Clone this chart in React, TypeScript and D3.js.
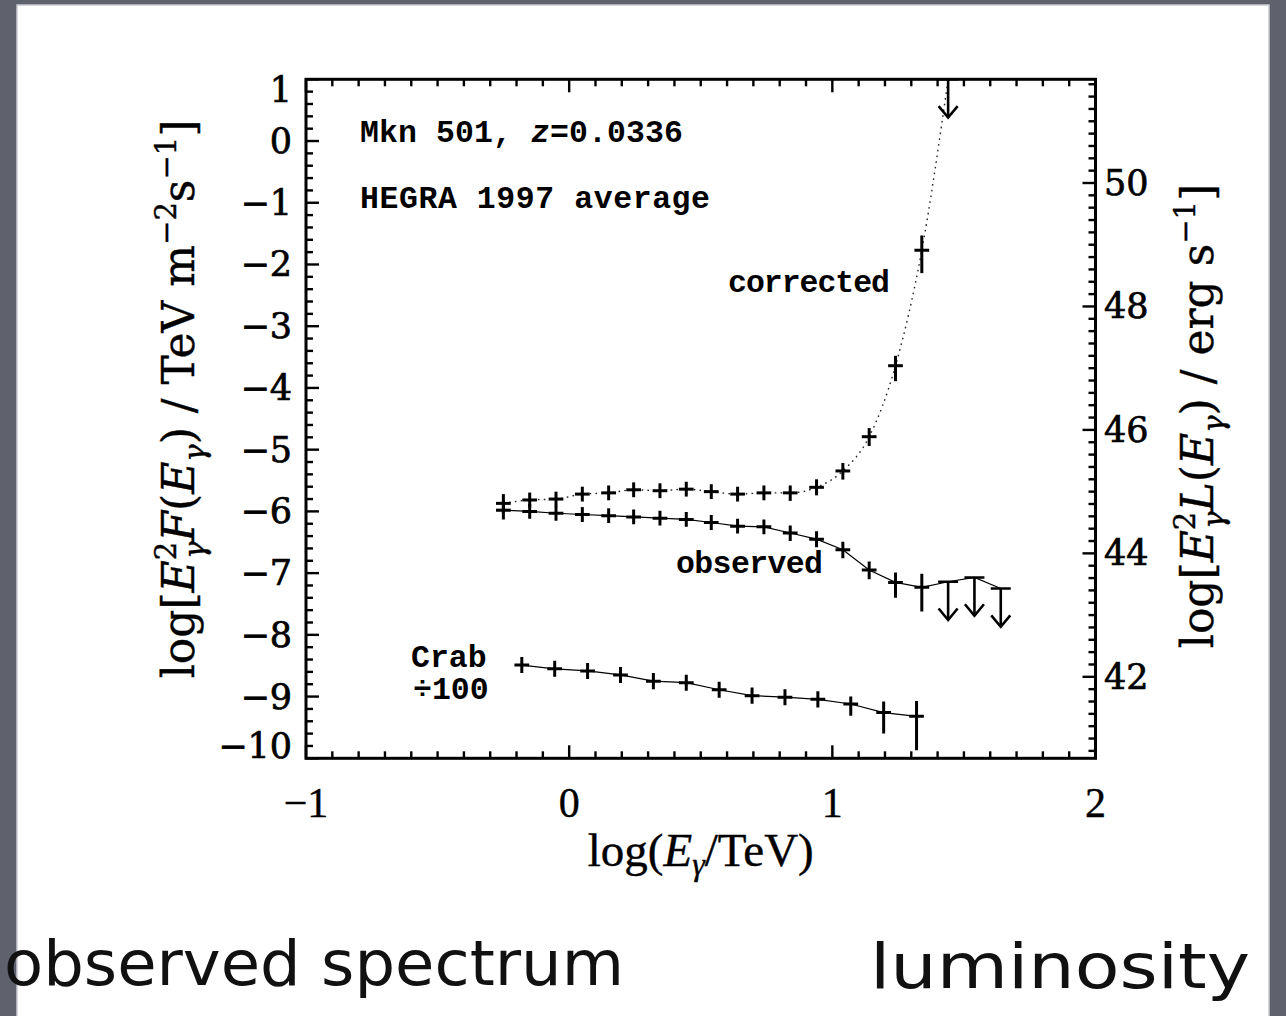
import React from "react";
import * as d3 from "d3";

// ---- data (log10 E / TeV, log10 E^2 F) ----
const obsX = [-0.25, -0.15, -0.05, 0.05, 0.15, 0.245, 0.345, 0.445, 0.54, 0.64, 0.74, 0.84, 0.94, 1.04, 1.14, 1.24, 1.34];
const obsY = [-5.98, -6.0, -6.03, -6.05, -6.07, -6.09, -6.11, -6.13, -6.18, -6.24, -6.25, -6.35, -6.45, -6.62, -6.95, -7.15, -7.23];
const obsErrUp = [0.15, 0.12, 0.12, 0.12, 0.12, 0.12, 0.12, 0.12, 0.12, 0.12, 0.12, 0.12, 0.13, 0.13, 0.14, 0.16, 0.22];
const obsErrDn = [0.15, 0.12, 0.12, 0.12, 0.12, 0.12, 0.12, 0.12, 0.12, 0.12, 0.12, 0.13, 0.13, 0.14, 0.15, 0.25, 0.39];
const obsUlX = [1.44, 1.54, 1.64];
const obsUlY = [-7.14, -7.07, -7.25];

const corrX = [-0.25, -0.15, -0.05, 0.05, 0.15, 0.245, 0.345, 0.445, 0.54, 0.64, 0.74, 0.84, 0.94, 1.04, 1.14, 1.24, 1.34];
const corrY = [-5.87, -5.815, -5.8, -5.72, -5.7, -5.65, -5.665, -5.64, -5.68, -5.72, -5.7, -5.7, -5.61, -5.345, -4.79, -3.64, -1.77];
const corrErrUp = [0.15, 0.12, 0.12, 0.12, 0.12, 0.12, 0.12, 0.12, 0.12, 0.12, 0.12, 0.12, 0.13, 0.13, 0.14, 0.16, 0.24];
const corrErrDn = [0.15, 0.12, 0.12, 0.12, 0.12, 0.12, 0.12, 0.12, 0.12, 0.12, 0.12, 0.13, 0.13, 0.14, 0.15, 0.25, 0.37];
const corrUlX = [1.44];
const corrUlY = [1.0];

const crabX = [-0.18, -0.055, 0.07, 0.195, 0.32, 0.445, 0.57, 0.695, 0.82, 0.945, 1.07, 1.195, 1.32];
const crabY = [-8.49, -8.55, -8.585, -8.65, -8.75, -8.775, -8.89, -8.985, -9.01, -9.045, -9.12, -9.26, -9.32];
const crabErrUp = [0.13, 0.13, 0.13, 0.13, 0.13, 0.13, 0.13, 0.13, 0.13, 0.13, 0.12, 0.18, 0.25];
const crabErrDn = [0.13, 0.13, 0.13, 0.13, 0.13, 0.13, 0.13, 0.13, 0.13, 0.13, 0.19, 0.34, 0.55];

const binHalfWidth = 0.028;
const ulHalfWidth = 0.038;
const ulArrowLength = 0.62;

const xDomain = [-1, 2];
const yDomain = [-10, 1];
const lumOffset = 50.68; // log L - log F
const xTickLabels = [-1, 0, 1, 2];
const yTickLabels = [1, 0, -1, -2, -3, -4, -5, -6, -7, -8, -9, -10];
const rTickLabels = [42, 44, 46, 48, 50];

const W = 1286;
const H = 1016;
const P = { l: 306, r: 1095.5, t: 79.3, b: 758.3 };

const fmt = (v: number) => (v < 0 ? "\u2212" + Math.abs(v) : String(v));

export default function App() {
  const x = d3.scaleLinear().domain(xDomain).range([P.l, P.r]);
  const y = d3.scaleLinear().domain(yDomain).range([P.b, P.t]);
  const yR = d3.scaleLinear().domain([yDomain[0] + lumOffset, yDomain[1] + lumOffset]).range([P.b, P.t]);

  const xMinor = d3.range(-10, 21).map((i) => i / 10);
  const yMinor = d3.range(-50, 6).map((i) => i / 5);
  const rMinor = d3.range(Math.ceil((yDomain[0] + lumOffset) * 5), Math.floor((yDomain[1] + lumOffset) * 5) + 1).map((i) => i / 5);
  const isInt = (v: number) => Math.abs(v - Math.round(v)) < 1e-6;
  const isEven = (v: number) => isInt(v) && Math.round(v) % 2 === 0;

  const lin = d3.line<[number, number]>().x((d) => x(d[0])).y((d) => y(d[1]));
  const smooth = d3.line<[number, number]>().x((d) => x(d[0])).y((d) => y(d[1])).curve(d3.curveMonotoneX);

  const obsPts: [number, number][] = obsX.map((v, i) => [v, obsY[i]] as [number, number]).concat(obsUlX.map((v, i) => [v, obsUlY[i]] as [number, number]));
  const corrPts: [number, number][] = corrX.map((v, i) => [v, corrY[i]] as [number, number]).concat(corrUlX.map((v, i) => [v, corrUlY[i]] as [number, number]));
  const crabPts: [number, number][] = crabX.map((v, i) => [v, crabY[i]] as [number, number]);

  const crosses = (xs: number[], ys: number[], up: number[], dn: number[], key: string) =>
    xs.map((v, i) => (
      <g key={key + i}>
        <line x1={x(v - binHalfWidth)} x2={x(v + binHalfWidth)} y1={y(ys[i])} y2={y(ys[i])} stroke="#000" strokeWidth={3} />
        <line x1={x(v)} x2={x(v)} y1={y(ys[i] + up[i])} y2={y(ys[i] - dn[i])} stroke="#000" strokeWidth={3} />
      </g>
    ));

  const arrows = (xs: number[], ys: number[], key: string) =>
    xs.map((v, i) => {
      const cx = x(v);
      const y0 = y(ys[i]);
      const tip = y(ys[i] - ulArrowLength);
      return (
        <g key={key + i} fill="none" stroke="#000" strokeWidth={2.6}>
          <line x1={x(v - ulHalfWidth)} x2={x(v + ulHalfWidth)} y1={y0} y2={y0} />
          <line x1={cx} x2={cx} y1={y0} y2={tip} />
          <polyline points={`${cx - 9.5},${tip - 11.5} ${cx},${tip} ${cx + 9.5},${tip - 11.5}`} />
        </g>
      );
    });

  const mono = "'Liberation Mono', 'DejaVu Sans Mono', monospace";
  const serif = "'DejaVu Serif', serif";
  const times = "'Liberation Serif', 'Times New Roman', serif";

  return (
    <svg width={W} height={H} style={{ position: "absolute", left: 0, top: 0, display: "block" }}>
      <defs>
        <clipPath id="plotclip">
          <rect x={P.l} y={P.t} width={P.r - P.l} height={P.b - P.t} />
        </clipPath>
      </defs>
      <rect x={0} y={0} width={W} height={H} fill="#5f626c" />
      <rect x={17} y={5} width={1252} height={H + 10} fill="#ffffff" stroke="#c9cacf" strokeWidth={1.5} />

      {/* data lines */}
      <g clipPath="url(#plotclip)">
        <path d={lin(obsPts) || ""} fill="none" stroke="#000" strokeWidth={1.2} />
        <path d={smooth(corrPts) || ""} fill="none" stroke="#222" strokeWidth={1.4} strokeDasharray="1.6 4.2" />
        <path d={lin(crabPts) || ""} fill="none" stroke="#000" strokeWidth={1.2} />
        {crosses(obsX, obsY, obsErrUp, obsErrDn, "o")}
        {crosses(corrX, corrY, corrErrUp, corrErrDn, "c")}
        {crosses(crabX, crabY, crabErrUp, crabErrDn, "k")}
        {arrows(obsUlX, obsUlY, "ou")}
        {arrows(corrUlX, corrUlY, "cu")}
      </g>

      {/* ticks */}
      <g stroke="#000" strokeWidth={2.4}>
        {xMinor.map((v) => {
          const len = isInt(v) ? 13 : 7;
          return (
            <g key={"xt" + v}>
              <line x1={x(v)} x2={x(v)} y1={P.b} y2={P.b - len} />
              <line x1={x(v)} x2={x(v)} y1={P.t} y2={P.t + len} />
            </g>
          );
        })}
        {yMinor.map((v) => {
          const len = isInt(v) ? 13 : 7;
          return <line key={"yt" + v} x1={P.l} x2={P.l + len} y1={y(v)} y2={y(v)} />;
        })}
        {rMinor.map((v) => {
          const len = isEven(v) ? 13 : 7;
          return <line key={"rt" + v} x1={P.r} x2={P.r - len} y1={yR(v)} y2={yR(v)} />;
        })}
      </g>
      <rect x={P.l} y={P.t} width={P.r - P.l} height={P.b - P.t} fill="none" stroke="#000" strokeWidth={3} />

      {/* tick labels */}
      <g fontFamily={serif} fontSize={35} fill="#000" stroke="#000" strokeWidth={0.7}>
        {yTickLabels.map((v) => {
          let cy = y(v);
          if (v === yDomain[1]) cy = P.t + 11;
          if (v === yDomain[0]) cy = P.b - 12;
          return (
            <text key={"yl" + v} x={292} y={cy} textAnchor="end" dominantBaseline="central">
              {fmt(v)}
            </text>
          );
        })}
        {rTickLabels.map((v) => (
          <text key={"rl" + v} x={1104} y={yR(v)} textAnchor="start" dominantBaseline="central">
            {v}
          </text>
        ))}
      </g>
      <g fontFamily={times} fontSize={42} fill="#000" stroke="#000" strokeWidth={0.4}>
        {xTickLabels.map((v) => (
          <text key={"xl" + v} x={x(v)} y={817} textAnchor="middle">
            {fmt(v)}
          </text>
        ))}
        <text x={(P.l + P.r) / 2} y={866} textAnchor="middle" fontSize={47}>
          log(<tspan fontStyle="italic">E</tspan>
          <tspan fontStyle="italic" fontSize={32} dy={9}>γ</tspan>
          <tspan dy={-9}>/TeV)</tspan>
        </text>
      </g>

      {/* axis titles */}
      <text transform="translate(194,399) rotate(-90)" textAnchor="middle" fontFamily={serif} fontSize={44} fill="#000" stroke="#000" strokeWidth={0.4}>
        log[<tspan fontStyle="italic">E</tspan>
        <tspan fontSize={29} dy={-18}>2</tspan>
        <tspan fontSize={29} fontStyle="italic" dx={-17} dy={29}>γ</tspan>
        <tspan fontStyle="italic" dy={-11}>F</tspan>(<tspan fontStyle="italic">E</tspan>
        <tspan fontSize={29} fontStyle="italic" dy={11}>γ</tspan>
        <tspan dy={-11}>)  /  TeV  m</tspan>
        <tspan fontSize={29} dy={-18}>−2</tspan>
        <tspan dy={18}>s</tspan>
        <tspan fontSize={29} dy={-18}>−1</tspan>
        <tspan dy={18}>]</tspan>
      </text>
      <text transform="translate(1213,416) rotate(-90)" textAnchor="middle" fontFamily={serif} fontSize={44} fill="#000" stroke="#000" strokeWidth={0.4}>
        log[<tspan fontStyle="italic">E</tspan>
        <tspan fontSize={29} dy={-18}>2</tspan>
        <tspan fontSize={29} fontStyle="italic" dx={-17} dy={29}>γ</tspan>
        <tspan fontStyle="italic" dy={-11}>L</tspan>(<tspan fontStyle="italic">E</tspan>
        <tspan fontSize={29} fontStyle="italic" dy={11}>γ</tspan>
        <tspan dy={-11}>)  /  erg  s</tspan>
        <tspan fontSize={29} dy={-18}>−1</tspan>
        <tspan dy={18}>]</tspan>
      </text>

      {/* annotations */}
      <g fontFamily={mono} fontWeight="bold" fontSize={31.5} fill="#000">
        <text x={360} y={142} textLength={323} lengthAdjust="spacing">
          Mkn 501, <tspan fontStyle="italic">z</tspan>=0.0336
        </text>
        <text x={360} y={208} textLength={350} lengthAdjust="spacing">HEGRA 1997 average</text>
        <text x={728} y={292} textLength={162} lengthAdjust="spacing">corrected</text>
        <text x={676} y={573} textLength={147} lengthAdjust="spacing">observed</text>
        <text x={411} y={667}>Crab</text>
        <text x={413} y={699}>÷100</text>
      </g>

      {/* slide captions */}
      <g fontFamily="'DejaVu Sans', sans-serif" fontSize={62} fill="#111">
        <text x={4} y={985} textLength={620} lengthAdjust="spacingAndGlyphs">observed spectrum</text>
        <text x={870} y={988} textLength={380} lengthAdjust="spacingAndGlyphs">luminosity</text>
      </g>
    </svg>
  );
}
